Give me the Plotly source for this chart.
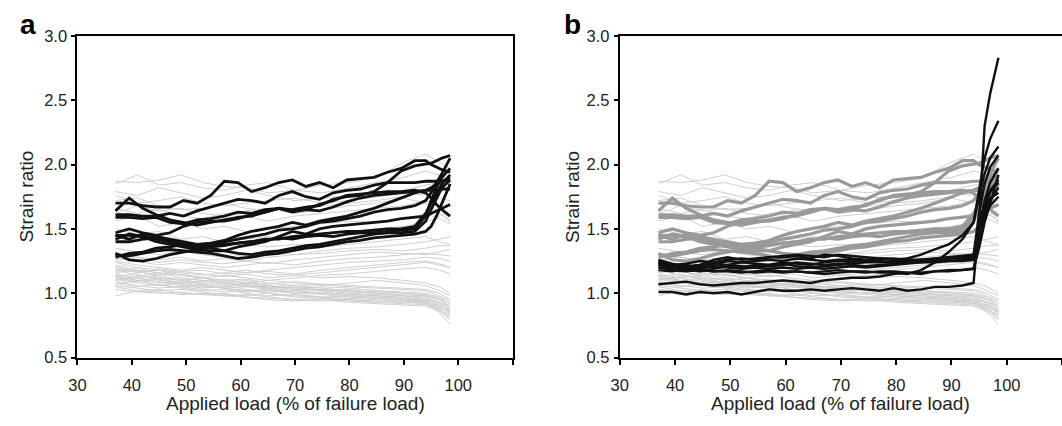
import plotly.graph_objects as go

# applied load (% of failure load) at which the highlighted curves were sampled
LOAD = [37, 39.5, 42, 44.5, 47, 49.5, 52, 54.5, 57, 59.5, 62, 64.5, 67, 69.5,
        72, 74.5, 77, 79.5, 82, 84.5, 87, 89.5, 92, 94, 95, 96, 97, 98.5]
# coarser sampling for the background (light grey) curves
LOAD_BG = [37, 41, 45, 49, 53, 57, 61, 65, 70, 75, 80, 85, 90, 94, 96.5, 98.5]

# background curves, shown light grey in both panels
g01 = [1.87, 1.86, 1.88, 1.92, 1.86, 1.83, 1.82, 1.78, 1.80, 1.84, 1.86, 1.90, 2.02, 2.08, 2.02, 1.96]
g02 = [1.85, 1.92, 1.84, 1.86, 1.82, 1.80, 1.84, 1.86, 1.80, 1.78, 1.82, 1.86, 1.90, 1.95, 1.92, 1.88]
g03 = [1.79, 1.76, 1.82, 1.78, 1.74, 1.76, 1.80, 1.76, 1.72, 1.74, 1.76, 1.78, 1.80, 1.84, 1.86, 1.84]
g04 = [1.76, 1.70, 1.72, 1.75, 1.70, 1.68, 1.70, 1.72, 1.74, 1.70, 1.72, 1.75, 1.78, 1.76, 1.74, 1.72]
g05 = [1.72, 1.74, 1.68, 1.65, 1.66, 1.70, 1.66, 1.64, 1.66, 1.68, 1.70, 1.72, 1.75, 1.80, 1.82, 1.80]
g06 = [1.66, 1.62, 1.65, 1.60, 1.58, 1.62, 1.60, 1.56, 1.60, 1.62, 1.64, 1.66, 1.68, 1.72, 1.68, 1.55]
g07 = [1.56, 1.60, 1.52, 1.55, 1.50, 1.52, 1.48, 1.50, 1.52, 1.54, 1.56, 1.55, 1.58, 1.62, 1.58, 1.54]
g08 = [1.50, 1.46, 1.48, 1.42, 1.44, 1.40, 1.42, 1.44, 1.42, 1.45, 1.48, 1.50, 1.52, 1.55, 1.60, 1.64]
g09 = [1.35, 1.32, 1.30, 1.33, 1.30, 1.28, 1.30, 1.32, 1.30, 1.33, 1.35, 1.36, 1.38, 1.40, 1.42, 1.44]
g10 = [1.30, 1.28, 1.26, 1.28, 1.25, 1.27, 1.25, 1.28, 1.30, 1.31, 1.33, 1.34, 1.33, 1.35, 1.37, 1.37]
g11 = [1.27, 1.25, 1.22, 1.24, 1.22, 1.20, 1.22, 1.24, 1.22, 1.25, 1.27, 1.28, 1.30, 1.31, 1.30, 1.29]
g12 = [1.25, 1.22, 1.20, 1.18, 1.20, 1.18, 1.16, 1.18, 1.20, 1.22, 1.24, 1.25, 1.26, 1.28, 1.27, 1.25]
g13 = [1.24, 1.20, 1.18, 1.16, 1.14, 1.16, 1.18, 1.15, 1.14, 1.16, 1.18, 1.20, 1.22, 1.24, 1.22, 1.20]
g14 = [1.22, 1.18, 1.16, 1.14, 1.12, 1.14, 1.12, 1.10, 1.12, 1.14, 1.15, 1.17, 1.19, 1.20, 1.18, 1.15]
g15 = [1.20, 1.17, 1.14, 1.15, 1.12, 1.10, 1.08, 1.10, 1.08, 1.06, 1.08, 1.10, 1.08, 1.06, 1.02, 0.98]
g16 = [1.19, 1.16, 1.18, 1.14, 1.12, 1.10, 1.11, 1.08, 1.06, 1.07, 1.05, 1.04, 1.03, 1.02, 0.98, 0.94]
g17 = [1.18, 1.14, 1.12, 1.10, 1.12, 1.08, 1.06, 1.05, 1.06, 1.04, 1.02, 1.01, 1.00, 0.98, 0.95, 0.90]
g18 = [1.16, 1.18, 1.12, 1.11, 1.08, 1.06, 1.08, 1.05, 1.03, 1.02, 1.03, 1.00, 0.98, 0.97, 0.93, 0.88]
g19 = [1.15, 1.12, 1.14, 1.10, 1.07, 1.09, 1.06, 1.04, 1.05, 1.02, 1.00, 0.99, 0.98, 0.96, 0.92, 0.86]
g20 = [1.14, 1.10, 1.08, 1.09, 1.06, 1.04, 1.05, 1.03, 1.01, 1.00, 0.99, 0.98, 0.96, 0.95, 0.90, 0.84]
g21 = [1.13, 1.15, 1.10, 1.08, 1.10, 1.07, 1.05, 1.06, 1.04, 1.03, 1.01, 1.02, 1.00, 0.99, 0.96, 0.92]
g22 = [1.12, 1.09, 1.11, 1.07, 1.05, 1.06, 1.03, 1.01, 1.02, 1.00, 0.98, 0.97, 0.96, 0.94, 0.88, 0.80]
g23 = [1.11, 1.08, 1.06, 1.05, 1.07, 1.04, 1.02, 1.03, 1.00, 0.99, 0.97, 0.96, 0.95, 0.93, 0.85, 0.76]
g24 = [1.10, 1.12, 1.09, 1.06, 1.04, 1.05, 1.07, 1.04, 1.02, 1.03, 1.01, 1.00, 0.99, 0.98, 0.95, 0.90]
g25 = [1.09, 1.06, 1.04, 1.05, 1.03, 1.01, 1.02, 1.00, 0.98, 0.97, 0.98, 0.96, 0.95, 0.94, 0.91, 0.87]
g26 = [1.08, 1.05, 1.07, 1.04, 1.02, 1.03, 1.00, 0.98, 0.99, 0.97, 0.96, 0.95, 0.94, 0.93, 0.90, 0.85]
g27 = [1.06, 1.04, 1.02, 1.03, 1.01, 0.99, 0.98, 1.00, 0.97, 0.96, 0.95, 0.94, 0.94, 0.92, 0.88, 0.82]
g28 = [1.05, 1.02, 1.03, 1.00, 0.99, 1.00, 0.97, 0.96, 0.95, 0.96, 0.94, 0.93, 0.93, 0.92, 0.89, 0.86]
g29 = [1.03, 1.01, 1.00, 1.01, 0.99, 0.98, 0.99, 0.97, 0.95, 0.94, 0.95, 0.93, 0.92, 0.91, 0.87, 0.83]
g30 = [0.98, 1.02, 1.01, 0.99, 1.00, 0.98, 0.97, 0.95, 0.94, 0.95, 0.93, 0.92, 0.91, 0.90, 0.86, 0.80]
g31 = [1.17, 1.20, 1.15, 1.17, 1.15, 1.13, 1.15, 1.12, 1.14, 1.12, 1.13, 1.12, 1.10, 1.08, 1.05, 1.00]
g32 = [1.21, 1.16, 1.19, 1.17, 1.18, 1.15, 1.16, 1.17, 1.15, 1.18, 1.20, 1.22, 1.24, 1.25, 1.23, 1.20]
g33 = [1.26, 1.28, 1.24, 1.26, 1.24, 1.23, 1.25, 1.23, 1.26, 1.28, 1.30, 1.32, 1.31, 1.30, 1.32, 1.34]
g34 = [1.13, 1.10, 1.12, 1.08, 1.09, 1.11, 1.08, 1.07, 1.09, 1.07, 1.06, 1.05, 1.04, 1.03, 1.00, 0.95]
g35 = [1.07, 1.10, 1.06, 1.08, 1.05, 1.04, 1.01, 1.02, 1.00, 1.01, 0.99, 0.98, 0.97, 0.95, 0.93, 0.90]
g36 = [1.62, 1.68, 1.64, 1.66, 1.62, 1.60, 1.64, 1.66, 1.62, 1.65, 1.68, 1.70, 1.74, 1.70, 1.62, 1.56]
g37 = [1.45, 1.40, 1.43, 1.38, 1.36, 1.40, 1.38, 1.36, 1.38, 1.36, 1.38, 1.40, 1.42, 1.44, 1.40, 1.38]
g38 = [1.11, 1.13, 1.16, 1.12, 1.10, 1.08, 1.10, 1.06, 1.04, 1.05, 1.04, 1.02, 1.01, 1.00, 0.97, 0.92]

# group highlighted in panel a (black), medium grey in panel b
a01 = [1.70, 1.70, 1.68, 1.67, 1.67, 1.72, 1.70, 1.76, 1.87, 1.86, 1.79, 1.82, 1.86, 1.88,
       1.83, 1.86, 1.82, 1.88, 1.89, 1.90, 1.94, 1.97, 2.03, 2.03, 2.00, 1.98, 1.96, 1.94]
a02 = [1.61, 1.61, 1.60, 1.60, 1.62, 1.60, 1.64, 1.67, 1.70, 1.73, 1.72, 1.70, 1.76, 1.79,
       1.75, 1.73, 1.78, 1.80, 1.81, 1.84, 1.86, 1.86, 1.86, 1.87, 1.87, 1.87, 1.87, 1.88]
a03 = [1.64, 1.74, 1.66, 1.61, 1.57, 1.55, 1.53, 1.55, 1.57, 1.59, 1.60, 1.63, 1.66, 1.64,
       1.65, 1.69, 1.72, 1.76, 1.77, 1.78, 1.79, 1.79, 1.80, 1.78, 1.74, 1.69, 1.65, 1.60]
a04 = [1.59, 1.59, 1.58, 1.59, 1.55, 1.54, 1.57, 1.58, 1.60, 1.63, 1.62, 1.65, 1.66, 1.65,
       1.67, 1.68, 1.73, 1.75, 1.76, 1.79, 1.86, 1.95, 1.99, 2.00, 2.01, 2.03, 2.05, 2.07]
a05 = [1.47, 1.50, 1.47, 1.45, 1.47, 1.52, 1.55, 1.56, 1.56, 1.58, 1.61, 1.63, 1.66, 1.63,
       1.65, 1.64, 1.67, 1.71, 1.74, 1.76, 1.77, 1.78, 1.79, 1.80, 1.82, 1.85, 1.87, 1.90]
a06 = [1.45, 1.45, 1.44, 1.42, 1.40, 1.37, 1.35, 1.37, 1.40, 1.42, 1.44, 1.46, 1.49, 1.50,
       1.52, 1.55, 1.56, 1.58, 1.60, 1.63, 1.65, 1.66, 1.68, 1.72, 1.78, 1.86, 1.93, 2.05]
a07 = [1.42, 1.46, 1.44, 1.40, 1.38, 1.36, 1.34, 1.33, 1.33, 1.36, 1.38, 1.40, 1.44, 1.48,
       1.46, 1.50, 1.52, 1.53, 1.54, 1.55, 1.56, 1.58, 1.59, 1.60, 1.62, 1.64, 1.66, 1.69]
a08 = [1.40, 1.40, 1.42, 1.43, 1.41, 1.38, 1.37, 1.38, 1.38, 1.39, 1.40, 1.42, 1.42, 1.44,
       1.45, 1.46, 1.47, 1.48, 1.48, 1.49, 1.50, 1.50, 1.52, 1.62, 1.70, 1.78, 1.85, 1.92]
a09 = [1.31, 1.26, 1.25, 1.27, 1.30, 1.32, 1.34, 1.36, 1.37, 1.39, 1.40, 1.41, 1.43, 1.42,
       1.44, 1.45, 1.44, 1.46, 1.47, 1.47, 1.48, 1.49, 1.50, 1.60, 1.72, 1.82, 1.90, 1.97]
a10 = [1.30, 1.29, 1.31, 1.33, 1.34, 1.33, 1.32, 1.31, 1.29, 1.27, 1.28, 1.30, 1.31, 1.33,
       1.35, 1.36, 1.38, 1.40, 1.41, 1.43, 1.44, 1.45, 1.46, 1.48, 1.52, 1.60, 1.70, 1.85]
a11 = [1.28, 1.31, 1.32, 1.35, 1.36, 1.38, 1.37, 1.35, 1.33, 1.31, 1.30, 1.32, 1.33, 1.35,
       1.37, 1.38, 1.40, 1.42, 1.44, 1.46, 1.47, 1.47, 1.48, 1.56, 1.65, 1.74, 1.82, 1.88]
a12 = [1.45, 1.42, 1.46, 1.44, 1.42, 1.40, 1.38, 1.39, 1.41, 1.45, 1.48, 1.50, 1.52, 1.55,
       1.53, 1.56, 1.58, 1.60, 1.63, 1.66, 1.70, 1.74, 1.78, 1.80, 1.80, 1.80, 1.81, 1.81]

# group highlighted in panel b (black)
b01 = [1.01, 1.01, 0.99, 1.01, 1.00, 1.01, 0.99, 1.01, 1.03, 1.02, 1.02, 1.03, 1.02, 1.03,
       1.04, 1.03, 1.02, 1.04, 1.02, 1.03, 1.05, 1.05, 1.06, 1.08, 1.55, 2.30, 2.55, 2.83]
b02 = [1.07, 1.08, 1.09, 1.07, 1.06, 1.07, 1.08, 1.08, 1.09, 1.10, 1.09, 1.08, 1.10, 1.11,
       1.12, 1.12, 1.13, 1.15, 1.16, 1.16, 1.17, 1.17, 1.18, 1.19, 1.40, 1.58, 1.68, 1.75]
b03 = [1.20, 1.18, 1.17, 1.18, 1.17, 1.17, 1.16, 1.17, 1.18, 1.17, 1.17, 1.16, 1.17, 1.18,
       1.17, 1.17, 1.16, 1.16, 1.15, 1.18, 1.24, 1.32, 1.42, 1.55, 1.80, 2.05, 2.20, 2.34]
b04 = [1.25, 1.22, 1.23, 1.25, 1.24, 1.26, 1.27, 1.26, 1.28, 1.28, 1.29, 1.27, 1.30, 1.29,
       1.27, 1.26, 1.27, 1.26, 1.27, 1.30, 1.34, 1.38, 1.45, 1.55, 1.75, 1.93, 2.05, 2.14]
b05 = [1.24, 1.21, 1.22, 1.20, 1.22, 1.25, 1.24, 1.25, 1.26, 1.25, 1.27, 1.26, 1.25, 1.26,
       1.26, 1.25, 1.25, 1.24, 1.25, 1.25, 1.26, 1.27, 1.28, 1.30, 1.62, 1.85, 1.98, 2.07]
b06 = [1.23, 1.20, 1.18, 1.21, 1.20, 1.22, 1.21, 1.20, 1.22, 1.23, 1.21, 1.20, 1.21, 1.22,
       1.23, 1.24, 1.24, 1.25, 1.25, 1.26, 1.26, 1.27, 1.27, 1.28, 1.52, 1.72, 1.86, 1.97]
b07 = [1.22, 1.19, 1.20, 1.19, 1.21, 1.20, 1.19, 1.20, 1.19, 1.20, 1.19, 1.20, 1.19, 1.20,
       1.21, 1.20, 1.21, 1.22, 1.23, 1.24, 1.25, 1.25, 1.26, 1.27, 1.45, 1.65, 1.78, 1.86]
b08 = [1.21, 1.22, 1.20, 1.22, 1.23, 1.22, 1.24, 1.23, 1.22, 1.24, 1.23, 1.22, 1.24, 1.25,
       1.24, 1.26, 1.25, 1.24, 1.24, 1.25, 1.26, 1.27, 1.28, 1.29, 1.40, 1.58, 1.72, 1.82]
b09 = [1.18, 1.17, 1.19, 1.18, 1.17, 1.18, 1.17, 1.16, 1.17, 1.16, 1.17, 1.16, 1.15, 1.16,
       1.17, 1.16, 1.17, 1.17, 1.16, 1.15, 1.17, 1.18, 1.18, 1.19, 1.35, 1.55, 1.70, 1.92]
b10 = [1.26, 1.23, 1.21, 1.22, 1.26, 1.28, 1.26, 1.27, 1.28, 1.29, 1.30, 1.29, 1.28, 1.30,
       1.29, 1.28, 1.27, 1.27, 1.26, 1.26, 1.27, 1.28, 1.29, 1.30, 1.48, 1.70, 1.80, 1.88]
b11 = [1.24, 1.20, 1.19, 1.17, 1.19, 1.21, 1.20, 1.22, 1.21, 1.22, 1.24, 1.23, 1.22, 1.23,
       1.22, 1.21, 1.22, 1.23, 1.24, 1.24, 1.24, 1.25, 1.25, 1.26, 1.42, 1.62, 1.74, 1.78]

GREY = [g01, g02, g03, g04, g05, g06, g07, g08, g09, g10, g11, g12, g13,
        g14, g15, g16, g17, g18, g19, g20, g21, g22, g23, g24, g25, g26,
        g27, g28, g29, g30, g31, g32, g33, g34, g35, g36, g37, g38]
GROUP_A = [a01, a02, a03, a04, a05, a06, a07, a08, a09, a10, a11, a12]
GROUP_B = [b01, b02, b03, b04, b05, b06, b07, b08, b09, b10, b11]

X_TICKS = [30, 40, 50, 60, 70, 80, 90, 100, 110]
X_TICKTEXT = ["30", "40", "50", "60", "70", "80", "90", "100", ""]
Y_TICKS = [0.5, 1.0, 1.5, 2.0, 2.5, 3.0]

W, H = 1062, 426
LIGHT = "#cfcfcf"
MID = "#9a9a9a"
DARK = "#111111"


def px_x(x):
    return x / W


def px_y(y):
    return 1 - y / H


def add_lines(fig, xs, curves, color, width, xref, yref):
    for ys in curves:
        fig.add_trace(go.Scatter(x=xs, y=ys, mode="lines", xaxis=xref,
                                 yaxis=yref, hoverinfo="skip",
                                 line=dict(color=color, width=width)))


fig = go.Figure()

# panel a
add_lines(fig, LOAD_BG, GREY, LIGHT, 1, "x", "y")
add_lines(fig, LOAD, GROUP_A, DARK, 2.8, "x", "y")

# panel b
add_lines(fig, LOAD_BG, GREY, LIGHT, 1, "x2", "y2")
add_lines(fig, LOAD, GROUP_A, MID, 3.2, "x2", "y2")
add_lines(fig, LOAD, GROUP_B, DARK, 2.4, "x2", "y2")

y_dom = [px_y(364), px_y(28)]
dom_a = [px_x(69), px_x(508)]
dom_b = [px_x(616), 1.0]

xcommon = dict(range=[30, 110], tickvals=X_TICKS, ticktext=X_TICKTEXT,
               ticks="outside", ticklen=5, tickwidth=1.5, tickcolor="black",
               showline=True, linewidth=2, linecolor="black",
               showgrid=False, zeroline=False, ticklabelstandoff=7,
               tickfont=dict(size=16.5, color="#222"))
ycommon = dict(range=[0.5, 3.0], tickvals=Y_TICKS, tickformat=".1f",
               ticks="outside", ticklen=4, tickwidth=1.5, tickcolor="black",
               showline=True, linewidth=2, linecolor="black",
               showgrid=False, zeroline=False, domain=y_dom,
               ticklabelstandoff=1,
               tickfont=dict(size=16.5, color="#222"))

fig.update_layout(
    width=W, height=H,
    margin=dict(l=0, r=0, t=0, b=0),
    paper_bgcolor="white", plot_bgcolor="white",
    showlegend=False,
    font=dict(family="Liberation Sans, Arial, sans-serif", color="#222"),
    xaxis=dict(xcommon, domain=dom_a, anchor="y", mirror=True),
    yaxis=dict(ycommon, anchor="x", mirror=True),
    xaxis2=dict(xcommon, domain=dom_b, anchor="y2", mirror=True),
    yaxis2=dict(ycommon, anchor="x2", mirror=False),
)

annots = []
for label, lab_x, title_x, left, right in [("a", 19, 18, 69, 508),
                                           ("b", 568, 569, 616, 1062)]:
    annots.append(dict(text="<b>%s</b>" % label, x=px_x(lab_x), y=px_y(16),
                       xref="paper", yref="paper", showarrow=False,
                       xanchor="center", yanchor="middle",
                       font=dict(size=28, color="black")))
    annots.append(dict(text="Strain ratio", x=px_x(title_x), y=px_y(196),
                       xref="paper", yref="paper", showarrow=False,
                       textangle=-90, xanchor="center", yanchor="middle",
                       font=dict(size=19)))
    annots.append(dict(text="Applied load (% of failure load)",
                       x=px_x((left + right) / 2), y=px_y(412),
                       xref="paper", yref="paper",
                       showarrow=False, xanchor="center", yanchor="middle",
                       font=dict(size=19)))
fig.update_layout(annotations=annots)

# drop the browser's default 8px body margin so the figure sits at (0, 0)
fig.write_html("out.html", config={"displayModeBar": False},
               post_script="document.body.style.margin = '0';")
